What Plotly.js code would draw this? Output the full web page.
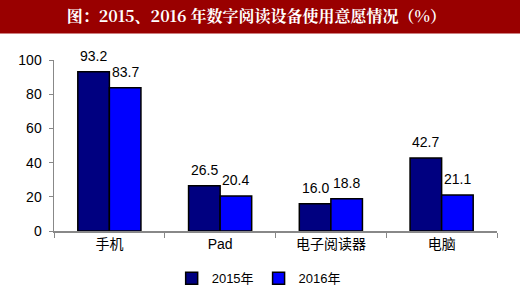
<!DOCTYPE html>
<html><head><meta charset="utf-8">
<script src="https://cdn.plot.ly/plotly-3.0.1.min.js"></script>
<style>html,body{margin:0;padding:0;background:#fff}#c{width:520px;height:305px}</style>
</head><body><div id="c"></div>
<script>
const categories = ['手机', 'Pad', '电子阅读器', '电脑'];
const seriesNames = ['2015年', '2016年'];
const values2015 = [93.2, 26.5, 16.0, 42.7];
const values2016 = [83.7, 20.4, 18.8, 21.1];
const yTicks = [0, 20, 40, 60, 80, 100];
const yTickLabels = ['0', '20', '40', '60', '80', '100'];

const font = 'Arial, "Liberation Sans", "Noto Sans CJK SC", sans-serif';
const bargap = 0.43;
const half = (1 - bargap) / 4;

const traces = [
  {type: 'bar', name: seriesNames[0], x: categories, y: values2015,
   marker: {color: '#000080', line: {color: '#000000', width: 1.5}}, hoverinfo: 'none'},
  {type: 'bar', name: seriesNames[1], x: categories, y: values2016,
   marker: {color: '#0000FF', line: {color: '#000000', width: 1.5}}, hoverinfo: 'none'}
];

const annotations = [];
[values2015, values2016].forEach((vals, s) => {
  vals.forEach((v, i) => {
    annotations.push({x: i + (s === 0 ? -half : half), y: v, xref: 'x', yref: 'y',
      text: v.toFixed(1), showarrow: false, yshift: 16,
      font: {family: font, size: 14, color: '#000'}});
  });
});

const layout = {
  width: 520, height: 305,
  margin: {l: 54, r: 23, t: 60, b: 71},
  paper_bgcolor: '#fff', plot_bgcolor: '#fff',
  barmode: 'group', bargap: bargap, bargroupgap: 0,
  title: {text: '<b>图：2015、2016 年数字阅读设备使用意愿情况（%）</b>',
    x: 0.493, xanchor: 'center', y: 1 - 16/305, yanchor: 'middle',
    font: {family: '"Noto Serif CJK SC", "Noto Sans CJK SC", serif', size: 16, color: '#fff'}},
  shapes: [{type: 'rect', xref: 'paper', yref: 'paper', x0: -1, x1: 2,
    y0: (234 - 33) / 174, y1: 3, fillcolor: '#990000', line: {width: 0}, layer: 'below'}],
  xaxis: {type: 'category', tickson: 'boundaries', ticks: 'outside', ticklen: 5,
    tickcolor: '#888', showline: true, linecolor: '#888', linewidth: 1.5,
    showgrid: false, zeroline: false,
    tickfont: {family: '"Liberation Sans", "Noto Sans CJK SC", sans-serif', size: 14, color: '#000'}},
  yaxis: {range: [0, 100], tickvals: yTicks, ticktext: yTickLabels, ticks: 'outside', ticklen: 4,
    tickcolor: '#888', showline: true, linecolor: '#888', linewidth: 1.5,
    showgrid: false, zeroline: false, ticklabelstandoff: 4,
    tickfont: {family: font, size: 14, color: '#000'}},
  showlegend: true,
  legend: {orientation: 'h', x: 0.462, xanchor: 'center', y: -0.276, yanchor: 'middle',
    font: {family: font, size: 13, color: '#000'}, itemwidth: 30, traceorder: 'normal'},
  annotations: annotations
};

Plotly.newPlot('c', traces, layout, {displayModeBar: false, staticPlot: true});
</script></body></html>
